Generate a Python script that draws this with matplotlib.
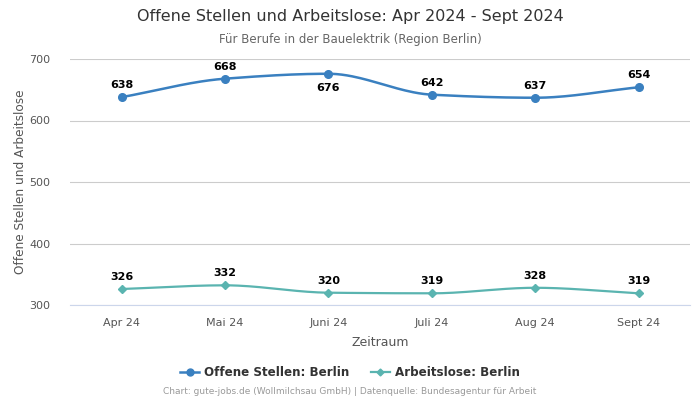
#!/usr/bin/env python3

import numpy as np
import matplotlib.pyplot as plt

# Data
months = ["Apr 24", "Mai 24", "Juni 24", "Juli 24", "Aug 24", "Sept 24"]
offene_stellen = [638, 668, 676, 642, 637, 654]
arbeitslose = [326, 332, 320, 319, 328, 319]

BLUE = "#3a80c0"
TEAL = "#5ab4b0"


def monotone_curve(y, n=40):
    # monotone cubic (Fritsch-Carlson) for a smooth line through the points
    y = np.asarray(y, dtype=float)
    x = np.arange(len(y), dtype=float)
    d = np.diff(y)
    m = np.zeros_like(y)
    m[0], m[-1] = d[0], d[-1]
    for i in range(1, len(y) - 1):
        if d[i - 1] * d[i] <= 0:
            m[i] = 0
        else:
            m[i] = 2 / (1 / d[i - 1] + 1 / d[i])
    xs, ys = [], []
    for i in range(len(y) - 1):
        t = np.linspace(0, 1, n)
        h00 = 2 * t**3 - 3 * t**2 + 1
        h10 = t**3 - 2 * t**2 + t
        h01 = -2 * t**3 + 3 * t**2
        h11 = t**3 - t**2
        xs.append(x[i] + t)
        ys.append(h00 * y[i] + h10 * m[i] + h01 * y[i + 1] + h11 * m[i + 1])
    return np.concatenate(xs), np.concatenate(ys)


fig = plt.figure(figsize=(7, 4), dpi=100)
ax = fig.add_axes([0.1, 0.2375, 0.886, 0.615])

x = np.arange(len(months))

cx, cy = monotone_curve(offene_stellen)
ax.plot(cx, cy, color=BLUE, lw=1.8, zorder=3)
ax.plot(x, offene_stellen, "o", color=BLUE, ms=5.5, zorder=4)

cx, cy = monotone_curve(arbeitslose)
ax.plot(cx, cy, color=TEAL, lw=1.6, zorder=3)
ax.plot(x, arbeitslose, "D", color=TEAL, ms=4, zorder=4)

# value labels
for i, v in enumerate(offene_stellen):
    if v == max(offene_stellen):
        ax.annotate(str(v), (i, v), xytext=(0, -7), textcoords="offset points",
                    ha="center", va="top", fontsize=8, fontweight="bold", color="black")
    else:
        ax.annotate(str(v), (i, v), xytext=(0, 5), textcoords="offset points",
                    ha="center", va="bottom", fontsize=8, fontweight="bold", color="black")
for i, v in enumerate(arbeitslose):
    ax.annotate(str(v), (i, v), xytext=(0, 5), textcoords="offset points",
                ha="center", va="bottom", fontsize=8, fontweight="bold", color="black")

ax.set_xlim(-0.5, 5.5)
ax.set_ylim(300, 700)
ax.set_yticks([300, 400, 500, 600, 700])
ax.set_xticks(x)
ax.set_xticklabels(months)
ax.grid(axis="y", color="#cccccc", lw=0.8)
ax.set_axisbelow(True)
for s in ["top", "right", "left"]:
    ax.spines[s].set_visible(False)
ax.spines["bottom"].set_color("#ccd6eb")
ax.tick_params(axis="both", length=0, labelsize=8, colors="#555555")
ax.tick_params(axis="x", pad=9)
ax.tick_params(axis="y", pad=14)

ax.set_xlabel("Zeitraum", fontsize=9, color="#555555", labelpad=6)
ax.set_ylabel("Offene Stellen und Arbeitslose", fontsize=8.7, color="#555555", labelpad=2)

fig.text(0.5, 0.958, "Offene Stellen und Arbeitslose: Apr 2024 - Sept 2024",
         ha="center", va="center", fontsize=11.5, color="#333333")
fig.text(0.5, 0.902, "Für Berufe in der Bauelektrik (Region Berlin)",
         ha="center", va="center", fontsize=8.5, color="#666666")

handles = [
    plt.Line2D([], [], color=BLUE, marker="o", ms=5, lw=1.8),
    plt.Line2D([], [], color=TEAL, marker="D", ms=3.5, lw=1.6),
]
fig.legend(handles, ["Offene Stellen: Berlin", "Arbeitslose: Berlin"],
           loc="center", bbox_to_anchor=(0.5, 0.068), ncol=2, frameon=False,
           prop={"size": 8.6, "weight": "bold"}, labelcolor="#333333",
           handlelength=1.6, columnspacing=1.8, handletextpad=0.4)

fig.text(0.5, 0.02, "Chart: gute-jobs.de (Wollmilchsau GmbH) | Datenquelle: Bundesagentur für Arbeit",
         ha="center", va="center", fontsize=6.5, color="#999999")

fig.savefig("out.png", dpi=100)
